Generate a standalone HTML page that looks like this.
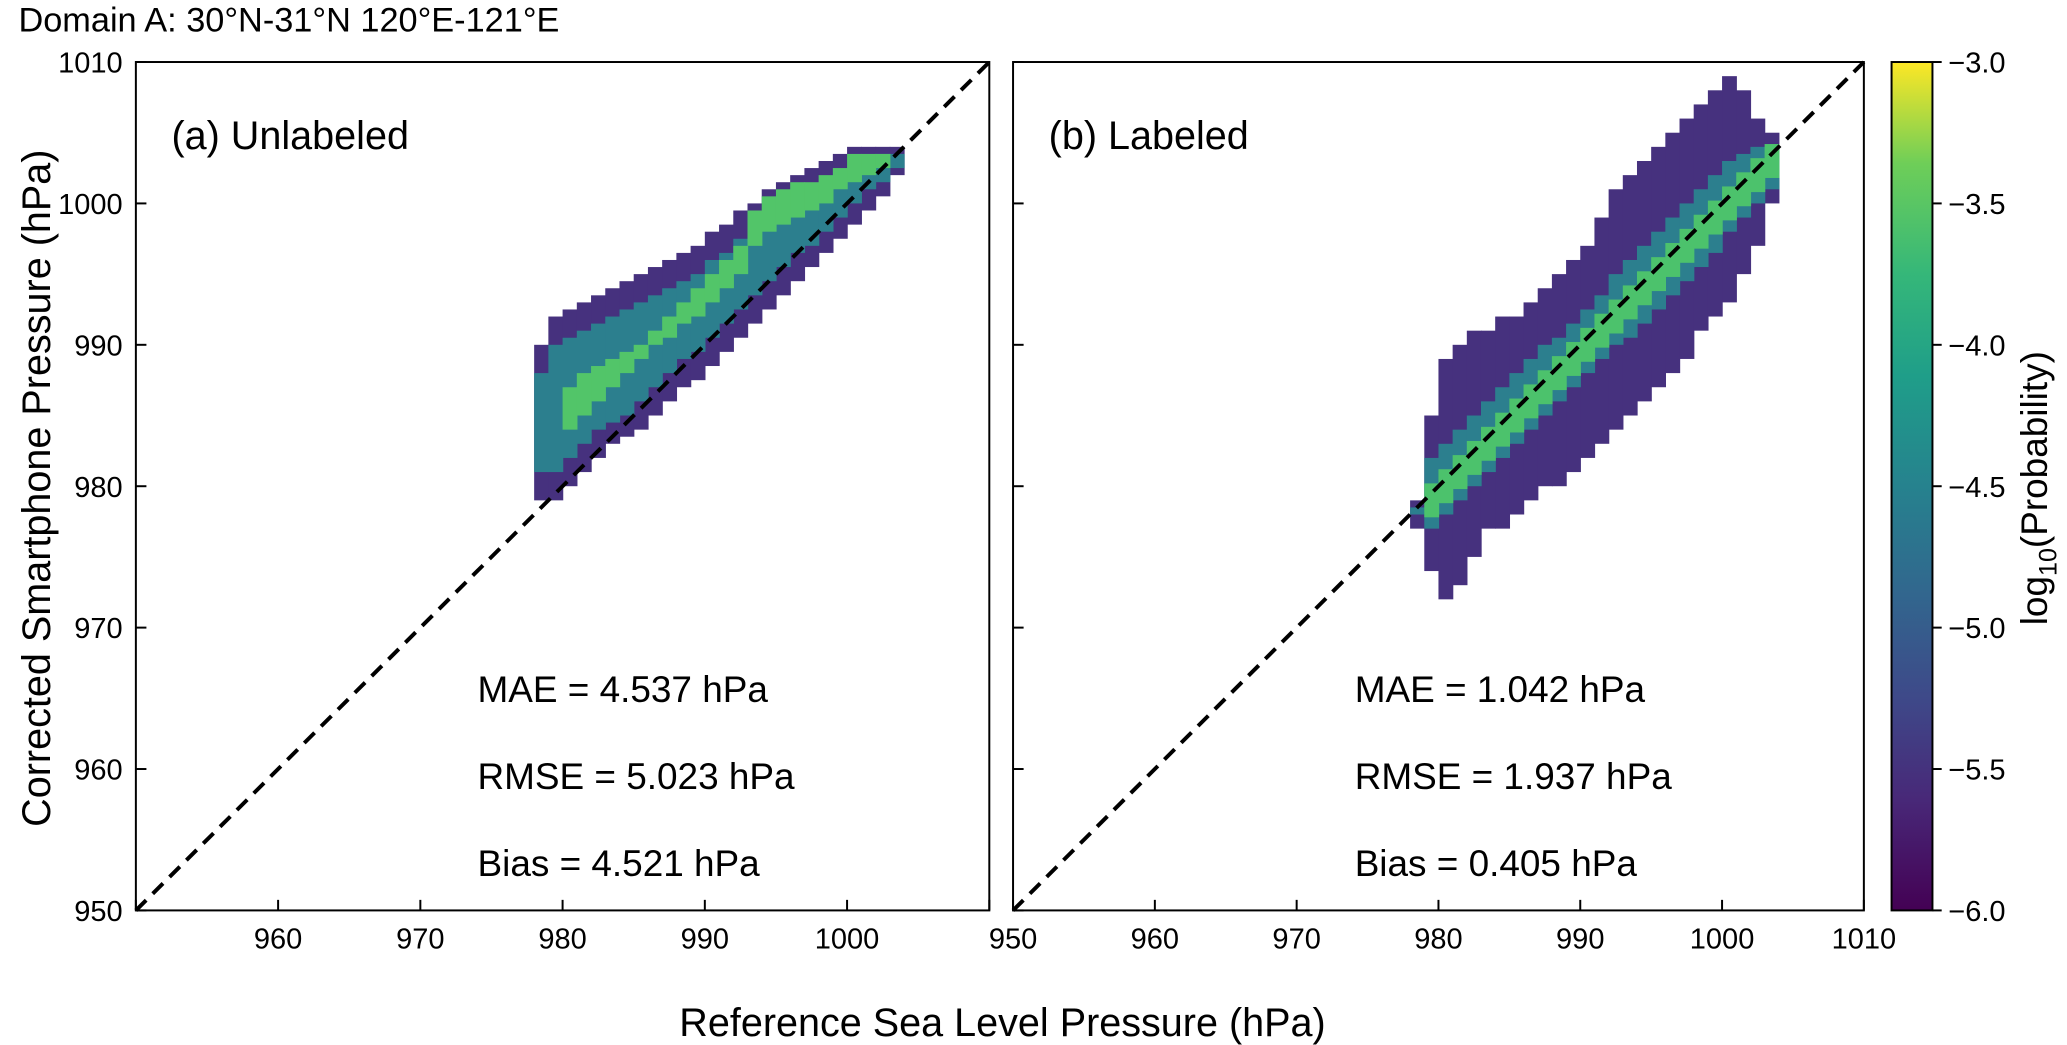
<!DOCTYPE html>
<html><head><meta charset="utf-8"><style>
body{margin:0;background:#fff;}
svg{display:block;}
svg text{font-family:"Liberation Sans",Arial,sans-serif;fill:#000;}
</style></head><body>
<svg id="fig" width="2067" height="1045" viewBox="0 0 1567 792" preserveAspectRatio="none" xmlns="http://www.w3.org/2000/svg">
<defs>
<linearGradient id="vir" x1="0" y1="1" x2="0" y2="0">
<stop offset="0" stop-color="#440154"/><stop offset="0.13" stop-color="#482878"/><stop offset="0.25" stop-color="#3e4989"/><stop offset="0.38" stop-color="#31688e"/><stop offset="0.5" stop-color="#26828e"/><stop offset="0.63" stop-color="#1f9e89"/><stop offset="0.75" stop-color="#35b779"/><stop offset="0.88" stop-color="#6ece58"/><stop offset="1" stop-color="#fde725"/>
</linearGradient>
</defs>
<text x="14" y="24" font-size="26">Domain A: 30°N-31°N 120°E-121°E</text>
<text transform="translate(38,370) rotate(-90)" text-anchor="middle" font-size="30">Corrected Smartphone Pressure (hPa)</text>
<text x="760" y="785" text-anchor="middle" font-size="30">Reference Sea Level Pressure (hPa)</text>
<g id="pa"></g>
<g id="pb"></g>
<g id="cb"></g>
</svg>
<script>
const xBins=[978,979,980,981,982,983,984,985,986,987,988,989,990,991,992,993,994,995,996,997,998,999,1000,1001,1002,1003];
const aLow=[979,979,980,981,982,983,983.5,984,985,986,987,987.5,988.5,989.5,990.5,991.5,992.5,993.5,994.5,995.5,996.5,997.5,998.5,999.5,1000.5,1002];
const aHigh=[990,992,992.5,993,993.5,994,994.5,995,995.5,996,996.5,997,998,998.5,999.5,1000,1001,1001.5,1002,1002.5,1003,1003.5,1004,1004,1004,1004];
const aMidLow=[981,981,982,983,984,984.5,985,986,987,988,989,989.5,990.5,991.5,992.5,993.5,994.5,995.5,996.5,997,998,999,1000,1001,1001.5,1002.5];
const aMidHigh=[988,990,990.5,991,991.5,992,992.5,993,993.5,994,994.5,995,996,996.5,997.5,998,999,999.5,1000.5,1001,1001.5,1002,1002.5,1003,1003.5,1003.5];
const aCoreLow=[0,0,984,985,986,987,988,989,990,990.5,991.5,992,993,994,995,997,998,998.5,999,999.5,1000,1001,1001.5,1002,1002.5,0];
const aCoreHigh=[0,0,987,988,988.5,989,989.5,990,991,992,993,994,995,996,997,999.5,1000.5,1001,1001.5,1001.5,1002,1002.5,1003.5,1003.5,1003.5,0];
const bLow=[977,974,972,973,975,977,977,978,979,980,980,981,982,983,984,985,986,987,988,989,991,992,993,995,997,1000];
const bHigh=[979,985,989,990,991,991,992,992,993,994,995,996,997,999,1001,1002,1003,1004,1005,1006,1007,1008,1009,1008,1006,1005];
const bMidLow=[978,977,978,979,980,981,982,983,984,985,986,987,988,989,990,990.5,991.5,992.5,993.5,994.5,995.5,996.5,998,999,1000,1001];
const bMidHigh=[978.5,982,983,984,985,986,987,988,989,990,990.5,991.5,992.5,993.5,995,996,997,998,999,1000,1001,1002,1003,1003.5,1004,1003.5];
const xTicks=[950,960,970,980,990,1000,1010];
const yTicks=[950,960,970,980,990,1000,1010];
const cbTicks=[-6.0,-5.5,-5.0,-4.5,-4.0,-3.5,-3.0];
const NS="http://www.w3.org/2000/svg";
function el(p,t,a){const e=document.createElementNS(NS,t);for(const k in a)e.setAttribute(k,a[k]);p.appendChild(e);return e;}
function makePanel(g,L,R,T,B,label,stats,showY,showX){
  const sx=v=>L+(v-950)/60*(R-L), sy=v=>B-(v-950)/60*(B-T);
  const bw=(R-L)/60;
  function col(lo,hi,color,name){for(let i=0;i<xBins.length;i++){if(!lo[i]||!hi[i])continue;
    const r=el(g,'rect',{x:sx(xBins[i]),y:sy(hi[i]),width:bw+0.5,height:Math.max(0,sy(lo[i])-sy(hi[i])),fill:color});
    
    }}
  return {sx,sy,col,finish(){
    const ln=el(g,'line',{x1:L,y1:B,x2:R,y2:T,stroke:'#000','stroke-width':3,'stroke-dasharray':'11,7'});
    
    const fr=el(g,'rect',{x:L,y:T,width:R-L,height:B-T,fill:'none',stroke:'#000','stroke-width':1.5});
    
    xTicks.forEach(v=>{el(g,'line',{x1:sx(v),y1:B,x2:sx(v),y2:B-8,stroke:'#000','stroke-width':1.5});
      if(showX(v)){const t=el(g,'text',{x:sx(v),y:B+29,'text-anchor':'middle','font-size':22});t.textContent=v;
      }});
    yTicks.forEach(v=>{el(g,'line',{x1:L,y1:sy(v),x2:L+8,y2:sy(v),stroke:'#000','stroke-width':1.5});
      if(showY){const t=el(g,'text',{x:L-10,y:sy(v)+8,'text-anchor':'end','font-size':22});t.textContent=v;
      }});
    const pl=el(g,'text',{x:L+27,y:T+66,'font-size':30});pl.textContent=label;
    
    stats.forEach((s,i)=>{const t=el(g,'text',{x:L+259,y:T+485+i*66,'font-size':28});t.textContent=s;
      });
  }};
}
const pa=makePanel(document.getElementById('pa'),103,750,47,690,'(a) Unlabeled',['MAE = 4.537 hPa','RMSE = 5.023 hPa','Bias = 4.521 hPa'],true,v=>v>950&&v<1010);
pa.col(aLow,aHigh,'#46317e','hist-outer');pa.col(aMidLow,aMidHigh,'#2c7f8e','hist-mid');pa.col(aCoreLow,aCoreHigh,'#52c569','hist-core');
pa.finish();
const pb=makePanel(document.getElementById('pb'),768,1413,47,690,'(b) Labeled',['MAE = 1.042 hPa','RMSE = 1.937 hPa','Bias = 0.405 hPa'],false,v=>true);
pb.col(bLow,bHigh,'#46317e','hist-outer');pb.col(bMidLow,bMidHigh,'#2c7f8e','hist-mid');
const bCoreLow=xBins.map(x=>x>=979?x-1.2:0), bCoreHigh=xBins.map(x=>x>=979?x+1.2:0);
pb.col(bCoreLow,bCoreHigh,'#4cc26c','hist-core');
pb.finish();
const cb=document.getElementById('cb');
const cL=1434,cR=1465,cT=47,cB=690;
el(cb,'rect',{x:cL,y:cT,width:cR-cL,height:cB-cT,fill:'url(#vir)',stroke:'#000','stroke-width':1.5});
cbTicks.forEach(v=>{const y=cB-(v+6)/3*(cB-cT);el(cb,'line',{x1:cR,y1:y,x2:cR+7,y2:y,stroke:'#000','stroke-width':1.5});
  const t=el(cb,'text',{x:cR+12,y:y+8,'font-size':22});t.textContent=v.toFixed(1).replace('-','−');
  });
const ct=el(cb,'text',{transform:'translate(1552,370) rotate(-90)','text-anchor':'middle','font-size':28});
ct.innerHTML='log<tspan font-size="19" dy="7">10</tspan><tspan dy="-7">(Probability)</tspan>';

</script>
</body></html>
